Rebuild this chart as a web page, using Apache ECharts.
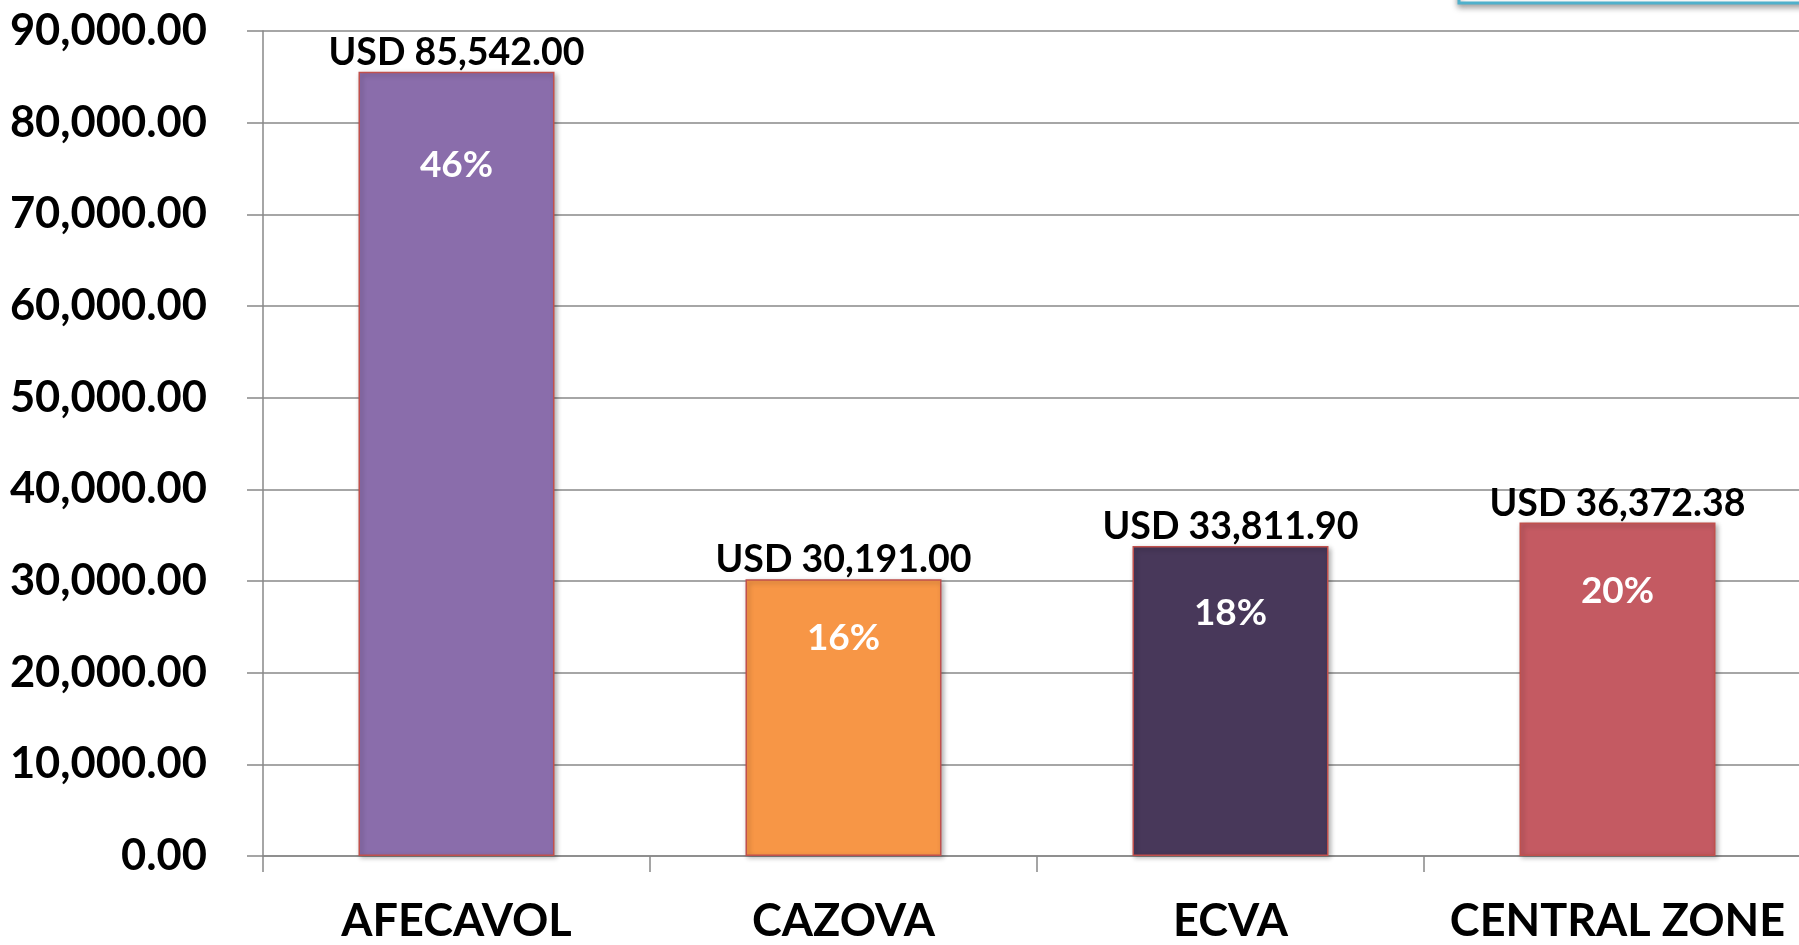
<!DOCTYPE html>
<html>
<head>
<meta charset="utf-8">
<title>Bar chart</title>
<script src="https://cdn.jsdelivr.net/npm/echarts@6/dist/echarts.min.js"></script>
<style>
    html, body { margin: 0; padding: 0; background: #fff; overflow: hidden; }
    #main { width: 1799px; height: 945px; }
</style>
</head>
<body>
<div id="main"></div>
<script>
// data
var categories = ['AFECAVOL', 'CAZOVA', 'ECVA', 'CENTRAL ZONE'];
var amounts = [85542.00, 30191.00, 33811.90, 36372.38];
var shares = ['46%', '16%', '18%', '20%'];
var barColors = ['#8a6dab', '#f79646', '#48385a', '#c45a62'];
// how far below each bar top the share label sits (px)
var shareDrop = [75, 40, 49, 50];

var fmt = function (v) {
    return Number(v).toLocaleString('en-US', { minimumFractionDigits: 2, maximumFractionDigits: 2 });
};

var chart = echarts.init(document.getElementById('main'));
var font = 'Lato, "Open Sans", sans-serif';

var option = {
    backgroundColor: '#ffffff',
    animation: false,
    grid: {
        left: 263,
        width: 1548,   // plot runs a little past the right edge
        top: 31,
        bottom: 89,
        outerBoundsMode: 'none',
        containLabel: false
    },
    graphic: [{
        // cut-off box in the top right corner
        type: 'rect',
        shape: { x: 1459, y: -30, width: 400, height: 33 },
        style: {
            fill: '#ffffff',
            stroke: '#4fb0cb',
            lineWidth: 3,
            shadowBlur: 6,
            shadowOffsetY: 3,
            shadowColor: 'rgba(0,0,0,0.35)'
        },
        z: 10
    }],
    xAxis: {
        type: 'category',
        data: categories,
        axisLine: { show: true, lineStyle: { color: '#888888', width: 1.5 } },
        axisTick: { show: true, length: 16, interval: 0, lineStyle: { color: '#888888', width: 1.5 } },
        axisLabel: {
            interval: 0,
            color: '#000',
            fontFamily: font,
            fontWeight: 'bold',
            fontSize: 45,
            margin: 43
        }
    },
    yAxis: {
        type: 'value',
        min: 0,
        max: 90000,
        interval: 10000,
        axisLine: { show: true, lineStyle: { color: '#888888', width: 1.5 } },
        axisTick: { show: true, length: 16, lineStyle: { color: '#888888', width: 1.5 } },
        splitLine: { show: true, lineStyle: { color: '#888888', width: 1.5 } },
        axisLabel: {
            color: '#000',
            fontFamily: font,
            fontWeight: 'bold',
            fontSize: 43.5,
            margin: 56,
            formatter: fmt
        }
    },
    series: [{
        name: 'Amount',
        type: 'bar',
        barWidth: 196,
        data: amounts.map(function (v, i) {
            return {
                value: v,
                itemStyle: { color: barColors[i] }
            };
        }),
        itemStyle: {
            borderColor: '#c0504d',
            borderWidth: 1.5,
            shadowBlur: 5,
            shadowOffsetX: 2,
            shadowOffsetY: 2,
            shadowColor: 'rgba(0,0,0,0.3)'
        },
        label: {
            show: true,
            position: 'top',
            distance: 0,
            color: '#000',
            fontFamily: font,
            fontWeight: 'bold',
            fontSize: 37.5,
            formatter: function (p) { return 'USD ' + fmt(p.value); }
        }
    }, {
        // share labels drawn over the same bars
        name: 'Share',
        type: 'bar',
        barWidth: 196,
        barGap: '-100%',
        z: 5,
        data: amounts.map(function (v, i) {
            return {
                value: v,
                label: { distance: shareDrop[i] }
            };
        }),
        itemStyle: { color: 'transparent' },
        label: {
            show: true,
            position: 'insideTop',
            color: '#fff',
            fontFamily: font,
            fontWeight: 'bold',
            fontSize: 37,
            formatter: function (p) { return shares[p.dataIndex]; }
        }
    }]
};

chart.setOption(option);
</script>
</body>
</html>
